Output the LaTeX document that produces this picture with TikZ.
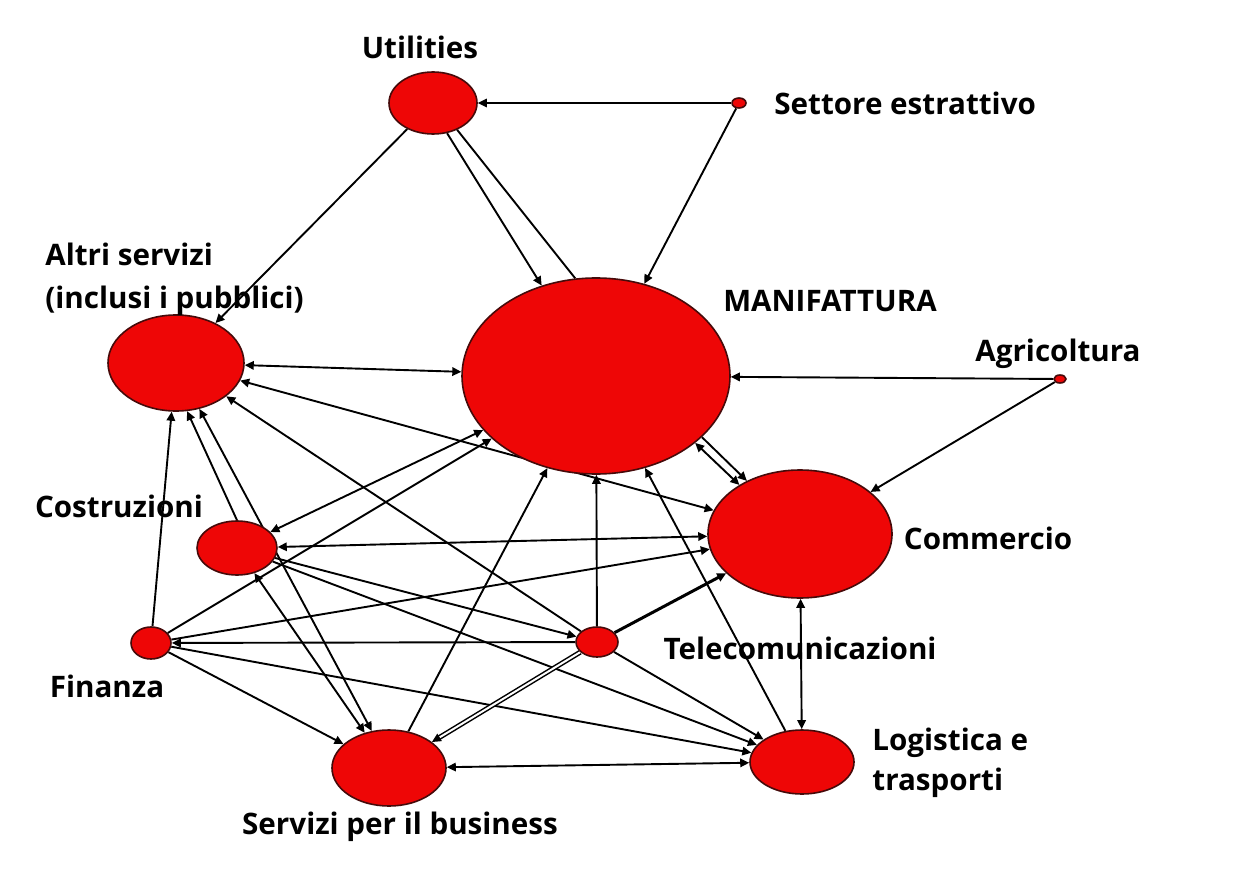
\documentclass[tikz,border=0pt]{standalone}
\usepackage{fontspec}
\setmainfont{Open Sans}
\usepackage{xcolor}
\usepackage{tikz}
\usetikzlibrary{arrows.meta}
\usetikzlibrary{shapes.geometric}
\definecolor{sred}{RGB}{238,6,6}
\definecolor{sdark}{RGB}{70,10,10}
\pgfdeclarelayer{edges}
\pgfsetlayers{edges,main}
\tikzstyle{flowhead}=[>/.tip={Triangle[length=4.5pt,width=4.2pt]}]
\tikzstyle{flow} =[line width=.95pt,flowhead,->]
\tikzstyle{flowb}=[line width=.95pt,flowhead,<->]
\tikzstyle{flowt}=[line width=1.5pt,flowhead,->]
\tikzstyle{flowp}=[line width=.75pt,flowhead,->,double,double distance=1pt]
\tikzstyle{sector}=[ellipse,draw=sdark,fill=sred,line width=.8pt,inner sep=0pt]
\tikzstyle{lab}=[font=\fontsize{14.8}{21.5}\selectfont\bfseries,inner sep=0pt]

\begin{document}
\begin{tikzpicture}[x=.5pt,y=-.5pt]
	\useasboundingbox (0,0) rectangle (1241,877);
	% sectors
	\node[sector,minimum width=44pt,minimum height=31pt] (util) at (433,103) {};
	\node[sector,minimum width=7pt,minimum height=5pt] (sett) at (739,103) {};
	\node[sector,minimum width=68pt,minimum height=48pt] (altri) at (176,363) {};
	\node[sector,minimum width=134pt,minimum height=98pt] (manif) at (596,376) {};
	\node[sector,minimum width=6pt,minimum height=4pt] (agri) at (1060,379) {};
	\node[sector,minimum width=92pt,minimum height=64pt] (comm) at (800,534) {};
	\node[sector,minimum width=40pt,minimum height=27pt] (costr) at (237,548) {};
	\node[sector,minimum width=20pt,minimum height=16pt] (fin) at (151,643) {};
	\node[sector,minimum width=21pt,minimum height=15pt] (tele) at (597,642) {};
	\node[sector,minimum width=57pt,minimum height=38pt] (serv) at (389,768) {};
	\node[sector,minimum width=52pt,minimum height=32pt] (logi) at (802,762) {};
	% labels
	\node[lab] (util-l) at (420,47) {Utilities};
	\node[lab,anchor=west] (sett-l) at (774,103) {Settore estrattivo};
	\node[lab,anchor=west,align=left] (altri-l) at (45,279) {Altri servizi\\(inclusi i pubblici)};
	\node[lab] (manif-l) at (830,301) {MANIFATTURA};
	\node[lab] (agri-l) at (1058,354) {Agricoltura};
	\node[lab] (comm-l) at (988,538) {Commercio};
	\node[lab] (costr-l) at (119,506) {Costruzioni};
	\node[lab] (fin-l) at (107,686) {Finanza};
	\node[lab] (tele-l) at (800,648) {Telecomunicazioni};
	\node[lab] (serv-l) at (400,827) {Servizi per il business};
	\node[lab,anchor=west,align=left] (logi-l) at (872,763) {Logistica e\\[-1.5pt]trasporti};
	% flows
	\begin{pgfonlayer}{edges}
	\draw[flow] (sett) -- (util);
	\draw[flow] (sett) -- (manif);
	\draw[flow] (util) -- (altri);
	\draw[flow] (util.-65) -- (manif.121);
	\draw[line width=.95pt] (util.-48) -- (manif.102);
	\draw[flow] (agri) -- (manif);
	\draw[flow] (agri) -- (comm);
	\draw[flowb] (altri) -- (manif);
	\draw[flowb] (altri) -- (comm);
	\draw[flow] (tele) -- (altri);
	\draw[flow] (costr.north) -- (altri.-77);
	\draw[flowb] (altri.-63) -- (serv.115);
	\draw[flow] (fin) -- (altri);
	\draw[flow] (fin) -- (manif);
	\draw[flowb] (costr) -- (manif);
	\draw[flow] (fin) -- (comm);
	\draw[flow] (tele) -- (fin);
	\draw[flow] (fin) -- (serv);
	\draw[flow] (fin) -- (logi);
	\draw[flowb] (costr) -- (comm);
	\draw[flow] (costr) -- (tele);
	\draw[flow] (costr) -- (logi);
	\draw[flowb] (costr) -- (serv);
	\draw[flow] (tele) -- (manif);
	\draw[flowt] (tele) -- (comm);
	\draw[flowp] (tele) -- (serv);
	\draw[flow] (tele) -- (logi);
	\draw[flow] (serv) -- (manif);
	\draw[flowb] (serv) -- (logi);
	\draw[flow] (logi) -- (manif);
	\draw[flowb] (logi) -- (comm);
	\draw[flowb] (manif.-34) -- (comm.141);
	\draw[flow] (manif.-30) -- (comm.135);
	\end{pgfonlayer}
\end{tikzpicture}
\end{document}
